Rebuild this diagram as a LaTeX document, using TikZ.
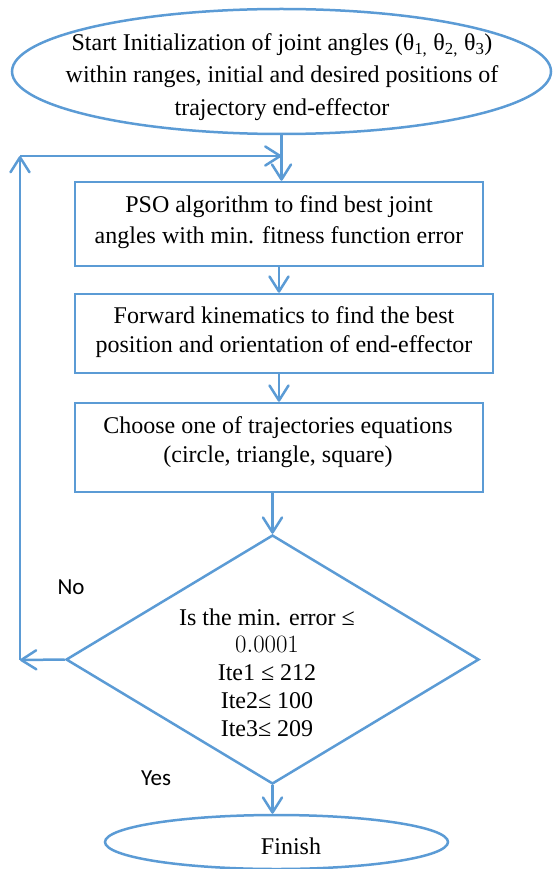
\documentclass[tikz,border=0pt]{standalone}
\usepackage{fontspec}
\setmainfont{Liberation Serif}
\newfontfamily\labelsans{Carlito}
\usetikzlibrary{shapes.geometric,arrows.meta}
\definecolor{flowblue}{RGB}{91,155,213}
\begin{document}
\begin{tikzpicture}[x=1pt,y=-1pt,
  shapeline/.style={draw=flowblue, line width=2.5pt},
  procbox/.style={shapeline, rectangle, inner sep=0pt},
  ovalnode/.style={shapeline, ellipse, inner sep=0pt},
  decnode/.style={shapeline, diamond, inner sep=0pt, aspect=1},
  flowarrow/.style={draw=flowblue, line width=2.5pt,
    -{Straight Barb[length=15pt,width=19pt,round]}},
  bodytext/.style={align=center, inner sep=0pt},
  choice/.style={font=\labelsans\fontsize{23}{27}\selectfont, inner sep=0pt}
]
\useasboundingbox (0,0) rectangle (553,869);

% shapes
\node[ovalnode, minimum width=539pt, minimum height=125pt] (start) at (281.5,71.5) {};
\node[procbox, minimum width=408pt, minimum height=84pt] (pso) at (279,224) {};
\node[procbox, minimum width=418pt, minimum height=79pt] (fk) at (284,333.5) {};
\node[procbox, minimum width=408pt, minimum height=89pt] (traj) at (279,447.5) {};
\node[decnode, minimum width=413pt, minimum height=249pt] (dec) at (272.5,659.5) {};
\node[ovalnode, minimum width=343pt, minimum height=54pt] (finish) at (276.5,842) {};

% texts
\node[bodytext, font=\fontsize{24}{32.5}\selectfont] (starttext) at (282,77)
  {Start Initialization of joint angles (θ\textsubscript{1,} θ\textsubscript{2,} θ\textsubscript{3})\\
   within ranges, initial and desired positions of\\
   trajectory end-effector};
\node[bodytext, font=\fontsize{24}{31}\selectfont] (psotext) at (279,222.5)
  {PSO algorithm to find best joint\\angles with min. fitness function error};
\node[bodytext, font=\fontsize{24}{29}\selectfont] (fktext) at (284,332.5)
  {Forward kinematics to find the best\\position and orientation of end-effector};
\node[bodytext, font=\fontsize{24}{29}\selectfont] (trajtext) at (278,442.5)
  {Choose one of trajectories equations\\(circle, triangle, square)};
\node[bodytext, font=\fontsize{24}{27.75}\selectfont] (dectext) at (267,672.5)
  {Is the min. error ≤\\
   {\fontsize{27}{27.75}\selectfont$0.0001$}\\
   Ite1 ≤ 212\\
   Ite2≤ 100\\
   Ite3≤ 209};
\node[bodytext, font=\fontsize{24}{29}\selectfont] (finishtext) at (291,846) {Finish};
\node[choice] (nolabel) at (71,587) {No};
\node[choice] (yeslabel) at (156,778) {Yes};

% loop-back corners
\coordinate (loopbottom) at (20,660);
\coordinate (looptop) at (20,156);

% connectors
\draw[flowarrow] (start.south) -- (start.south |- pso.north);
\draw[flowarrow] (pso.south) -- (pso.south |- fk.north);
\draw[flowarrow] (pso.south |- fk.south) -- (pso.south |- traj.north);
\draw[flowarrow] (dec.north |- traj.south) -- (dec.north);
\draw[flowarrow] (dec.south) -- (dec.south |- finish.north);
\draw[flowarrow] (dec.west) -- (loopbottom);
\draw[flowarrow] (loopbottom) -- (looptop);
\draw[flowarrow] (looptop) -- (start.south |- looptop);
\end{tikzpicture}
\end{document}
